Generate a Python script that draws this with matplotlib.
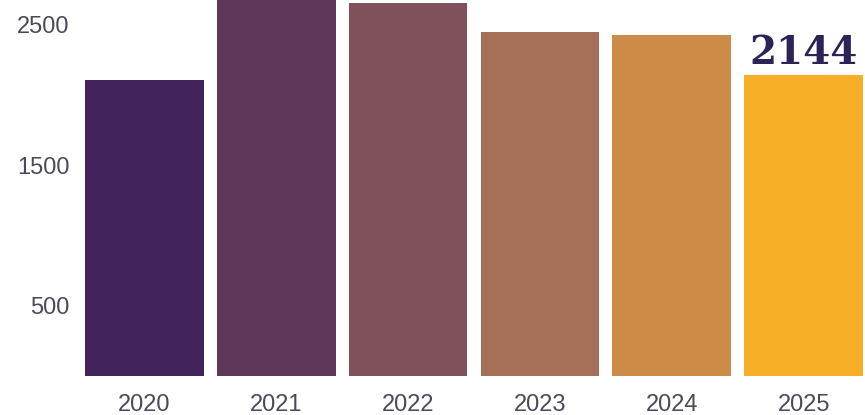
import matplotlib.pyplot as plt

years = ["2020", "2021", "2022", "2023", "2024", "2025"]
values = [2110, 2720, 2657, 2450, 2429, 2144]
colors = ["#43235c", "#5e375b", "#80515a", "#a56f58", "#cc8c47", "#f5ae25"]
yticks = [500, 1500, 2500]

fig = plt.figure(figsize=(8.65, 4.15), dpi=100)
ax = fig.add_axes([85 / 865, 39 / 415, 778 / 865, 376 / 415])

x = range(len(years))
ax.bar(x, values, width=0.9, color=colors)

ax.set_xlim(-0.45, len(years) - 0.55)
ax.set_ylim(0, 2678)
ax.set_xticks(list(x))
ax.set_xticklabels(years)
ax.set_yticks(yticks)
ax.tick_params(length=0, labelsize=17, labelcolor="#4a4a5a")
ax.tick_params(axis="x", pad=13)
ax.tick_params(axis="y", pad=11)
for lbl in ax.get_xticklabels() + ax.get_yticklabels():
    lbl.set_family("Liberation Sans")
for s in ax.spines.values():
    s.set_visible(False)

ax.annotate(str(values[-1]), (len(years) - 1, values[-1]), xytext=(0, 2),
            textcoords="offset points", ha="center", va="bottom",
            fontsize=28, fontweight="bold", family="DejaVu Serif",
            color="#2e2358", annotation_clip=False)

fig.savefig("out.png", dpi=100)
